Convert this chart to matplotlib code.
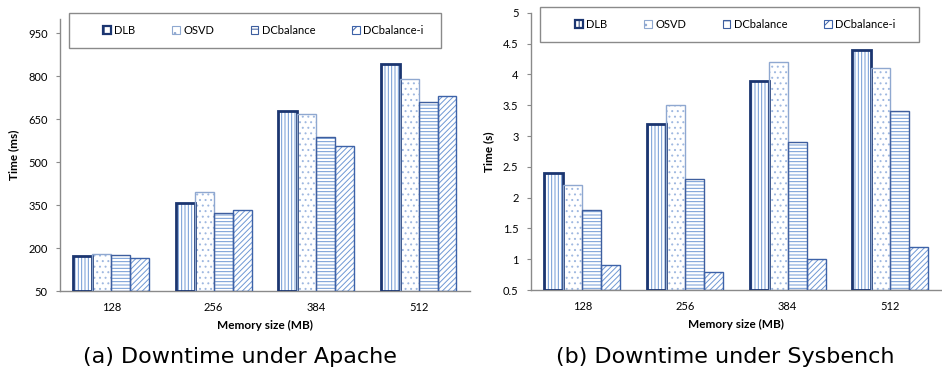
import matplotlib.pyplot as plt
import matplotlib.patches as mpatches
import numpy as np

plt.rcParams['font.family'] = ['Lato', 'DejaVu Sans']
plt.rcParams['hatch.linewidth'] = 0.7

mem = ['128', '256', '384', '512']
series = ['DLB', 'OSVD', 'DCbalance', 'DCbalance-i']

apache_dlb = [172, 358, 678, 842]
apache_osvd = [178, 394, 666, 791]
apache_dcb = [177, 321, 586, 709]
apache_dcbi = [164, 331, 555, 731]

sysb_dlb = [2.4, 3.2, 3.9, 4.4]
sysb_osvd = [2.2, 3.5, 4.2, 4.1]
sysb_dcb = [1.8, 2.3, 2.9, 3.4]
sysb_dcbi = [0.9, 0.8, 1.0, 1.2]

styles = [
    dict(hatch='|||||', hc='#6f98d4', edge='#1b3570', lw=2.0),
    dict(hatch='...', hc='#9fb8e0', edge='#8fa8d0', lw=1.0),
    dict(hatch='-----', hc='#6f98d4', edge='#3e5e9e', lw=1.0),
    dict(hatch='//////', hc='#6f98d4', edge='#3d62a8', lw=1.0),
]
grey = '#8a8a8a'

fig = plt.figure(figsize=(9.42, 3.72), dpi=100)


def draw(ax, data, base, ylim, ticks, ylabel, tickfmt):
    x = np.arange(len(mem))
    w = 0.185
    for i, (vals, st) in enumerate(zip(data, styles)):
        pos = x + (i - 1.5) * w
        h = np.array(vals) - base
        ax.bar(pos, h, w, bottom=base, color='white', hatch=st['hatch'],
               edgecolor=st['hc'], linewidth=0, zorder=2)
        ax.bar(pos, h, w, bottom=base, fill=False, edgecolor=st['edge'],
               linewidth=st['lw'], zorder=3)
    ax.set_xlim(-0.5, 3.5)
    ax.set_ylim(*ylim)
    ax.set_yticks(ticks)
    ax.set_yticklabels([tickfmt(t) for t in ticks])
    ax.set_xticks(x)
    ax.set_xticklabels(mem)
    for s in ['top', 'right']:
        ax.spines[s].set_visible(False)
    for s in ['left', 'bottom']:
        ax.spines[s].set_color(grey)
        ax.spines[s].set_linewidth(1.0)
    ax.tick_params(axis='y', length=3, color=grey, labelsize=8, pad=6)
    ax.tick_params(axis='x', length=0, labelsize=8, pad=8)
    ax.set_ylabel(ylabel, fontsize=8.5, fontweight='bold', labelpad=6)
    ax.set_xlabel('Memory size (MB)', fontsize=8.5, fontweight='bold', labelpad=5)


def legend(frame, first_x):
    # frame: left, top, right, bottom in pixels
    l, t, r, b = frame
    fig.patches.append(mpatches.Rectangle((l / 942, 1 - b / 372), (r - l) / 942, (b - t) / 372,
                                          transform=fig.transFigure, fill=False,
                                          edgecolor=grey, linewidth=1.0))
    handles = []
    for name, st in zip(series, styles):
        handles.append(mpatches.Patch(facecolor='white', edgecolor=st['edge'],
                                      hatch=st['hatch'][:2], linewidth=st['lw'] * 0.8,
                                      label=name))
    fig.legend(handles=handles, loc='center left',
               bbox_to_anchor=(first_x / 942, 1 - (t + b) / 2 / 372), ncol=4,
               frameon=False, fontsize=8, handlelength=0.7, handleheight=0.7,
               handletextpad=0.3, columnspacing=3.3, borderpad=0, borderaxespad=0)


ax1 = fig.add_axes([0.0637, 0.2177, 0.435, 0.732])
draw(ax1, [apache_dlb, apache_osvd, apache_dcb, apache_dcbi], 50,
     (50, 1000), [50, 200, 350, 500, 650, 800, 950], 'Time (ms)', lambda t: str(t))

ax2 = fig.add_axes([0.5637, 0.2204, 0.436, 0.745])
draw(ax2, [sysb_dlb, sysb_osvd, sysb_dcb, sysb_dcbi], 0.5,
     (0.5, 5), [0.5, 1, 1.5, 2, 2.5, 3, 3.5, 4, 4.5, 5], 'Time (s)', lambda t: f'{t:g}')

legend((69, 13, 441, 48), 103)
legend((540, 7, 919, 42), 575)

cap = dict(fontsize=16, family='DejaVu Sans', ha='center', va='center')
fig.text(240 / 942, 1 - 357 / 372, '(a) Downtime under Apache', **cap)
fig.text(725 / 942, 1 - 357 / 372, '(b) Downtime under Sysbench', **cap)

fig.savefig('out.png', dpi=100)
